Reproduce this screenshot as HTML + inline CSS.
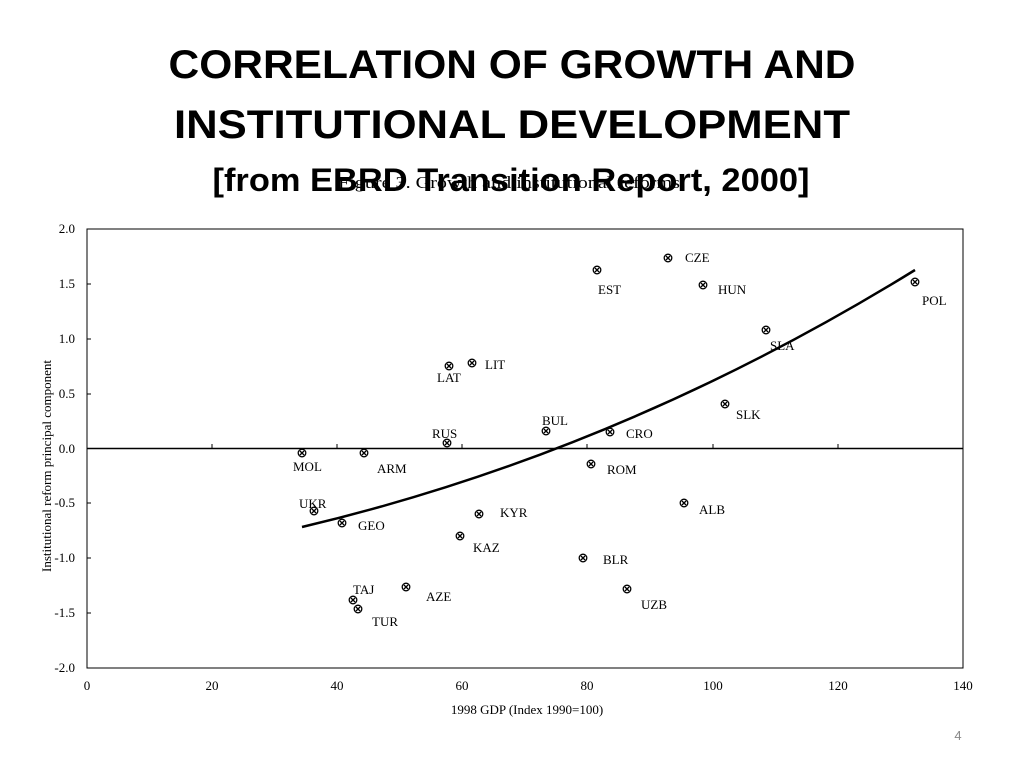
<!DOCTYPE html>
<html><head><meta charset="utf-8"><style>
html,body{margin:0;padding:0;background:#fff;}
svg{display:block}
.t{font-family:"Liberation Serif",serif;font-size:13px;fill:#000}
</style></head><body>
<svg width="1024" height="768" viewBox="0 0 1024 768">
<g font-family="Liberation Sans, sans-serif" font-weight="bold" text-anchor="middle" fill="#000">
<text x="512" y="78" font-size="40" textLength="687" lengthAdjust="spacingAndGlyphs">CORRELATION OF GROWTH AND</text>
<text x="512" y="138" font-size="40" textLength="676" lengthAdjust="spacingAndGlyphs">INSTITUTIONAL  DEVELOPMENT</text>
<text x="511" y="191" font-size="32" textLength="597" lengthAdjust="spacingAndGlyphs">[from EBRD Transition Report, 2000]</text>
</g>
<text x="338" y="188" font-family="Liberation Serif, serif" font-size="17" textLength="342" lengthAdjust="spacingAndGlyphs">Figure 3. Growth and institutional reforms</text>
<rect x="87" y="229" width="876" height="439" fill="none" stroke="#000" stroke-width="1"/>
<line x1="87" y1="448.5" x2="963" y2="448.5" stroke="#000" stroke-width="1.5"/>
<g stroke="#000" stroke-width="1">
<line x1="212" y1="444" x2="212" y2="448"/><line x1="337" y1="444" x2="337" y2="448"/><line x1="462" y1="444" x2="462" y2="448"/><line x1="587" y1="444" x2="587" y2="448"/><line x1="713" y1="444" x2="713" y2="448"/><line x1="838" y1="444" x2="838" y2="448"/>
<line x1="87" y1="284" x2="91" y2="284"/><line x1="87" y1="339" x2="91" y2="339"/><line x1="87" y1="394" x2="91" y2="394"/><line x1="87" y1="503" x2="91" y2="503"/><line x1="87" y1="558" x2="91" y2="558"/><line x1="87" y1="613" x2="91" y2="613"/>
</g>
<g class="t" text-anchor="end">
<text x="75" y="233">2.0</text><text x="75" y="288">1.5</text><text x="75" y="343">1.0</text><text x="75" y="398">0.5</text><text x="75" y="453">0.0</text><text x="75" y="507">-0.5</text><text x="75" y="562">-1.0</text><text x="75" y="617">-1.5</text><text x="75" y="672">-2.0</text>
</g>
<g class="t" text-anchor="middle">
<text x="87" y="690">0</text><text x="212" y="690">20</text><text x="337" y="690">40</text><text x="462" y="690">60</text><text x="587" y="690">80</text><text x="713" y="690">100</text><text x="838" y="690">120</text><text x="963" y="690">140</text>
<text x="527" y="714">1998 GDP (Index 1990=100)</text>
</g>
<text class="t" transform="translate(51,466) rotate(-90)" text-anchor="middle">Institutional reform principal component</text>
<path d="M302,527 Q620,452 915,270" fill="none" stroke="#000" stroke-width="2.5"/>
<g class="t">
<text x="685" y="262">CZE</text><text x="598" y="294">EST</text><text x="718" y="294">HUN</text><text x="922" y="305">POL</text>
<text x="770" y="350">SLA</text><text x="485" y="369">LIT</text><text x="437" y="382">LAT</text><text x="736" y="419">SLK</text>
<text x="542" y="425">BUL</text><text x="626" y="438">CRO</text><text x="432" y="438">RUS</text><text x="293" y="471">MOL</text>
<text x="377" y="473">ARM</text><text x="607" y="474">ROM</text><text x="699" y="514">ALB</text><text x="299" y="508">UKR</text>
<text x="500" y="517">KYR</text><text x="358" y="530">GEO</text><text x="473" y="552">KAZ</text><text x="603" y="564">BLR</text>
<text x="426" y="601">AZE</text><text x="641" y="609">UZB</text><text x="353" y="594">TAJ</text><text x="372" y="626">TUR</text>
</g>
<g fill="none" stroke="#000" stroke-width="1.3">
<g transform="translate(668,258)"><circle r="3.8"/><path d="M-2,-2L2,2M2,-2L-2,2"/></g>
<g transform="translate(597,270)"><circle r="3.8"/><path d="M-2,-2L2,2M2,-2L-2,2"/></g>
<g transform="translate(703,285)"><circle r="3.8"/><path d="M-2,-2L2,2M2,-2L-2,2"/></g>
<g transform="translate(915,282)"><circle r="3.8"/><path d="M-2,-2L2,2M2,-2L-2,2"/></g>
<g transform="translate(766,330)"><circle r="3.8"/><path d="M-2,-2L2,2M2,-2L-2,2"/></g>
<g transform="translate(472,363)"><circle r="3.8"/><path d="M-2,-2L2,2M2,-2L-2,2"/></g>
<g transform="translate(449,366)"><circle r="3.8"/><path d="M-2,-2L2,2M2,-2L-2,2"/></g>
<g transform="translate(725,404)"><circle r="3.8"/><path d="M-2,-2L2,2M2,-2L-2,2"/></g>
<g transform="translate(546,431)"><circle r="3.8"/><path d="M-2,-2L2,2M2,-2L-2,2"/></g>
<g transform="translate(610,432)"><circle r="3.8"/><path d="M-2,-2L2,2M2,-2L-2,2"/></g>
<g transform="translate(447,443)"><circle r="3.8"/><path d="M-2,-2L2,2M2,-2L-2,2"/></g>
<g transform="translate(302,453)"><circle r="3.8"/><path d="M-2,-2L2,2M2,-2L-2,2"/></g>
<g transform="translate(364,453)"><circle r="3.8"/><path d="M-2,-2L2,2M2,-2L-2,2"/></g>
<g transform="translate(591,464)"><circle r="3.8"/><path d="M-2,-2L2,2M2,-2L-2,2"/></g>
<g transform="translate(684,503)"><circle r="3.8"/><path d="M-2,-2L2,2M2,-2L-2,2"/></g>
<g transform="translate(314,511)"><circle r="3.8"/><path d="M-2,-2L2,2M2,-2L-2,2"/></g>
<g transform="translate(479,514)"><circle r="3.8"/><path d="M-2,-2L2,2M2,-2L-2,2"/></g>
<g transform="translate(342,523)"><circle r="3.8"/><path d="M-2,-2L2,2M2,-2L-2,2"/></g>
<g transform="translate(460,536)"><circle r="3.8"/><path d="M-2,-2L2,2M2,-2L-2,2"/></g>
<g transform="translate(583,558)"><circle r="3.8"/><path d="M-2,-2L2,2M2,-2L-2,2"/></g>
<g transform="translate(406,587)"><circle r="3.8"/><path d="M-2,-2L2,2M2,-2L-2,2"/></g>
<g transform="translate(627,589)"><circle r="3.8"/><path d="M-2,-2L2,2M2,-2L-2,2"/></g>
<g transform="translate(353,600)"><circle r="3.8"/><path d="M-2,-2L2,2M2,-2L-2,2"/></g>
<g transform="translate(358,609)"><circle r="3.8"/><path d="M-2,-2L2,2M2,-2L-2,2"/></g>
</g>
<text x="958" y="740" font-family="Liberation Sans, sans-serif" font-size="13" fill="#888" text-anchor="middle">4</text>
</svg>
</body></html>
